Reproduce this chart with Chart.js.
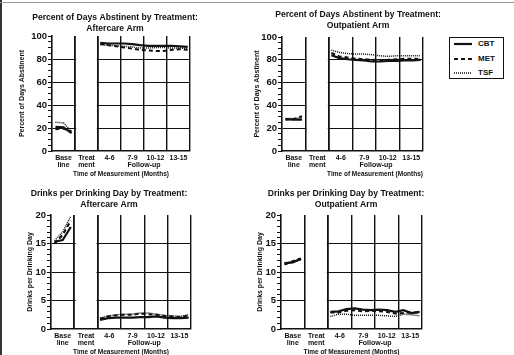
<!DOCTYPE html>
<html>
<head>
<meta charset="utf-8">
<script src="https://cdn.jsdelivr.net/npm/chart.js@4.4.1/dist/chart.umd.min.js"></script>
<style>
    html, body { margin: 0; padding: 0; background: #fff; }
    body { width: 514px; height: 355px; overflow: hidden; position: relative; }
    canvas { position: absolute; }
    .edge-left { position: absolute; left: 0; top: 0; width: 2px; height: 355px; background: #333; }
    .edge-top { position: absolute; left: 0; top: 2px; width: 514px; height: 1px; background: #999; }
    #legend {
        position: absolute; left: 449px; top: 37px; width: 53px; height: 40px;
        border: 1.5px solid #111;
        font: bold 8px "Liberation Sans", Arial, sans-serif; color: #111;
    }
    #legend .row { position: absolute; left: 4px; height: 10px; line-height: 10px; display: flex; align-items: center; }
    #legend svg { margin-right: 6px; }
</style>
</head>
<body>
<div class="edge-left"></div>
<div class="edge-top"></div>
<div id="legend"></div>
<script>
// ---- Data ----

const seriesNames = ['CBT', 'MET', 'TSF'];

const baseMonths = [1, 2, 3];
const followMonths = [4, 5, 6, 7, 8, 9, 10, 11, 12, 13, 14, 15];

const colLabels = [['Base', 'line'], ['Treat', 'ment'], '4-6', '7-9', '10-12', '13-15'];
const groupLabel = 'Follow-up';
const xTitle = 'Time of Measurement (Months)';

const pdaTicks = [0, 20, 40, 60, 80, 100];
const dddTicks = [0, 5, 10, 15, 20];

// months 1-3 baseline, 4-15 follow-up
const aftPdaCBT = [21, 20.5, 15.5, 94, 93.5, 93.5, 93.5, 93, 92, 91.5, 91.5, 91.5, 91.5, 91, 90.5];
const aftPdaMET = [19, 19.5, 17, 93, 92, 91, 90, 89, 88, 87.5, 87, 87, 88, 88.5, 88];
const aftPdaTSF = [25, 24.5, 17, 92.5, 92, 91.5, 91, 90.5, 89.5, 89.5, 90, 90, 89.5, 89.5, 89];

const outPdaCBT = [28, 27.5, 27.5, 84, 81.5, 80.5, 80, 79.5, 78.5, 78.5, 79, 79, 79.5, 79.5, 80];
const outPdaMET = [27.5, 28, 30.5, 86, 83, 82, 81, 80.5, 80, 79.5, 80, 80.5, 81, 81, 80.5];
const outPdaTSF = [28.5, 28.5, 29, 88.5, 86.5, 85.5, 85, 85, 84.5, 83.5, 83, 83.5, 83.5, 83.5, 83.5];

const aftDddCBT = [15.3, 15.6, 17.9, 1.6, 1.9, 2.0, 2.0, 2.0, 2.1, 2.1, 2.2, 2.0, 1.9, 1.9, 2.0];
const aftDddMET = [15, 16.5, 19, 1.8, 2.2, 2.4, 2.5, 2.5, 2.7, 2.6, 2.5, 2.3, 2.2, 2.1, 2.4];
const aftDddTSF = [15.5, 17, 19.8, 1.9, 2.3, 2.5, 2.6, 2.6, 2.8, 2.8, 2.6, 2.4, 2.3, 2.2, 2.5];

const outDddCBT = [11.5, 11.7, 12.3, 3.0, 3.1, 3.5, 3.6, 3.4, 3.3, 3.4, 3.3, 3.0, 3.3, 2.8, 3.0];
const outDddMET = [11.3, 11.9, 12.4, 2.9, 2.9, 3.2, 3.3, 3.1, 3.2, 3.1, 3.0, 2.7, 2.8, 2.9, 2.9];
const outDddTSF = [11.6, 11.8, 12.2, 2.2, 2.6, 2.6, 2.4, 2.4, 2.4, 2.4, 2.3, 2.2, 2.6, 2.5, 2.3];

// ---- Styles ----

const ink = '#111';
const lineDash = [[], [4, 3], [1, 1]];
const lineWidth = [2.2, 2, 1.5];

Chart.defaults.font.family = '"Liberation Sans", Arial, sans-serif';
Chart.defaults.font.weight = 'bold';
Chart.defaults.color = ink;

// x axis: one unit per column (baseline, treatment, four follow-up columns)
const basePos = m => 0.15 + (m - 1) * 0.35;
const followPos = m => 2.1 + (m - 4) * 3.8 / 11;

const xTickValues = [0, 0.5, 1, 1.5, 2, 2.5, 3, 3.5, 4, 4.5, 5, 5.5, 6];

function xLabel(v) {
    if (v === 4) return ['', groupLabel];
    const i = v - 0.5;
    return Number.isInteger(i) ? colLabels[i] : '';
}

function toPoints(vals) {
    return [
        ...baseMonths.map((m, i) => ({ x: basePos(m), y: vals[i] })),
        { x: 1.5, y: null },
        ...followMonths.map((m, i) => ({ x: followPos(m), y: vals[i + baseMonths.length] }))
    ];
}

// blank out the treatment column
const treatmentGap = {
    id: 'treatmentGap',
    beforeDatasetsDraw(chart) {
        const { ctx, chartArea: a, scales: { x } } = chart;
        const l = x.getPixelForValue(1) + 1.2;
        const r = x.getPixelForValue(2) - 1.2;
        ctx.save();
        ctx.fillStyle = '#fff';
        ctx.fillRect(l, a.top - 1, r - l, a.bottom - a.top);
        ctx.restore();
    }
};

function makePanel(p) {
    const cv = document.createElement('canvas');
    cv.width = p.w;
    cv.height = p.h;
    cv.style.left = p.left + 'px';
    cv.style.top = p.top + 'px';
    document.body.appendChild(cv);

    const yMax = p.major[p.major.length - 1];

    new Chart(cv, {
        type: 'line',
        data: {
            datasets: seriesNames.map((name, i) => ({
                label: name,
                data: toPoints(p.series[i]),
                borderColor: ink,
                borderWidth: lineWidth[i],
                borderDash: lineDash[i],
                pointRadius: 0,
                tension: 0,
                fill: false
            }))
        },
        options: {
            responsive: false,
            animation: false,
            events: [],
            layout: { padding: 0 },
            plugins: {
                legend: { display: false },
                tooltip: { enabled: false },
                title: {
                    display: true,
                    text: p.title,
                    color: ink,
                    font: { size: 8.6, weight: 'bold', lineHeight: 1.25 },
                    padding: p.titlePad
                }
            },
            scales: {
                x: {
                    type: 'linear',
                    min: 0,
                    max: 6,
                    afterBuildTicks: s => { s.ticks = xTickValues.map(v => ({ value: v })); },
                    afterFit: s => { s.height = p.xh; },
                    ticks: {
                        autoSkip: false,
                        maxRotation: 0,
                        minRotation: 0,
                        padding: 4,
                        font: { size: 7, weight: 'bold', lineHeight: 1.0 },
                        callback: v => xLabel(v)
                    },
                    grid: {
                        drawTicks: false,
                        color: c => (Number.isInteger(c.tick.value) && c.tick.value > 0) ? ink : 'transparent',
                        lineWidth: c => (c.tick.value === 1 || c.tick.value === 2) ? 1.8 : 1.4
                    },
                    border: { color: ink, width: 1.6 },
                    title: {
                        display: true,
                        text: xTitle,
                        align: p.xTitleAlign,
                        font: { size: 6.5, weight: 'bold', lineHeight: 1.2 },
                        padding: { top: 0, bottom: p.xTitlePadB }
                    }
                },
                y: {
                    min: 0,
                    max: yMax,
                    afterFit: s => { s.width = p.yw; },
                    ticks: {
                        stepSize: p.minor,
                        autoSkip: false,
                        maxTicksLimit: 100,
                        padding: 1,
                        font: { size: 9.5, weight: 'bold' },
                        callback: v => p.major.includes(v) ? v : ''
                    },
                    grid: {
                        tickLength: 4,
                        tickColor: ink,
                        tickWidth: 1,
                        color: c => (p.major.includes(c.tick.value) && c.tick.value > 0 && c.tick.value < yMax) ? ink : 'transparent',
                        lineWidth: 1
                    },
                    border: { color: ink, width: 1.6 },
                    title: {
                        display: true,
                        text: p.yTitle,
                        font: { size: 7, weight: 'bold', lineHeight: 1.2 },
                        padding: { top: p.yTitleOff, bottom: 0 }
                    }
                },
                // spacer on the right so the chart title sits where it should
                y2: {
                    position: 'right',
                    afterFit: s => { s.width = p.y2w; },
                    ticks: { display: false },
                    grid: { drawOnChartArea: false, drawTicks: false },
                    border: { display: false }
                }
            }
        },
        plugins: [treatmentGap]
    });
}

// ---- Panels ----

makePanel({
    left: 0, top: 0, w: 230, h: 180,
    title: ['Percent of Days Abstinent by Treatment:', 'Aftercare Arm'],
    titlePad: { top: 12, bottom: 2.5 },
    yw: 52, y2w: 40, xh: 29, yTitleOff: 18,
    xTitleAlign: 'center', xTitlePadB: 2,
    yTitle: 'Percent of Days Abstinent',
    major: pdaTicks, minor: 5,
    series: [aftPdaCBT, aftPdaMET, aftPdaTSF]
});

makePanel({
    left: 250, top: 0, w: 216, h: 180,
    title: ['Percent of Days Abstinent by Treatment:', 'Outpatient Arm'],
    titlePad: { top: 9.6, bottom: 5.9 },
    yw: 32, y2w: 43, xh: 29, yTitleOff: 2.8,
    xTitleAlign: 'end', xTitlePadB: 2,
    yTitle: 'Percent of Days Abstinent',
    major: pdaTicks, minor: 5,
    series: [outPdaCBT, outPdaMET, outPdaTSF]
});

makePanel({
    left: 0, top: 175, w: 218, h: 183,
    title: ['Drinks per Drinking Day by Treatment:', 'Aftercare Arm'],
    titlePad: { top: 13.6, bottom: 4.9 },
    yw: 51, y2w: 27, xh: 29, yTitleOff: 25.8,
    xTitleAlign: 'center', xTitlePadB: 1.5,
    yTitle: 'Drinks per Drinking Day',
    major: dddTicks, minor: 1,
    series: [aftDddCBT, aftDddMET, aftDddTSF]
});

makePanel({
    left: 250, top: 175, w: 192, h: 183,
    title: ['Drinks per Drinking Day by Treatment:', 'Outpatient Arm'],
    titlePad: { top: 13.6, bottom: 4.9 },
    yw: 31, y2w: 20, xh: 29, yTitleOff: 5.8,
    xTitleAlign: 'center', xTitlePadB: 1.5,
    yTitle: 'Drinks per Drinking Day',
    major: dddTicks, minor: 1,
    series: [outDddCBT, outDddMET, outDddTSF]
});

// ---- Legend ----

const legendEl = document.getElementById('legend');
seriesNames.forEach((name, i) => {
    const row = document.createElement('div');
    row.className = 'row';
    row.style.top = (1 + i * 14.5) + 'px';
    row.innerHTML = `<svg width="18" height="6"><line x1="0" y1="3" x2="18" y2="3" stroke="${ink}" stroke-width="${lineWidth[i]}" stroke-dasharray="${lineDash[i].join(' ')}"/></svg><span>${name}</span>`;
    legendEl.appendChild(row);
});
</script>
</body>
</html>
